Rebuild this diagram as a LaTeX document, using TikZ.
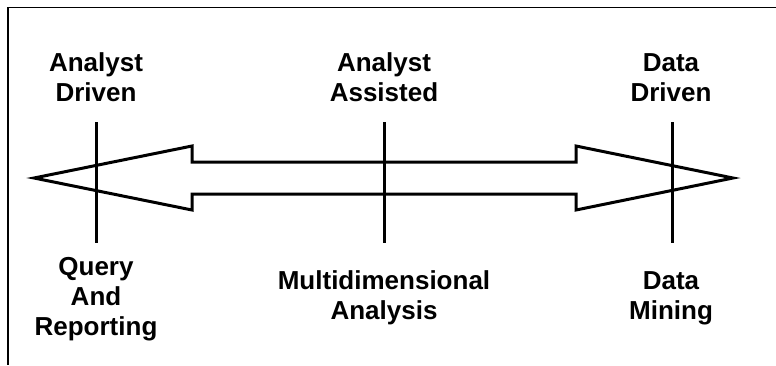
\documentclass[tikz,border=0pt]{standalone}
\usepackage{fontspec}
\setmainfont{Liberation Sans}
\begin{document}
\begin{tikzpicture}[x=1pt,y=-1pt,
  lbl/.style={font=\bfseries\fontsize{26}{30}\selectfont, align=center, inner sep=0pt, anchor=base},
  frameline/.style={line width=1.6pt, line cap=butt},
  arrowshape/.style={line width=3pt, line join=miter},
  tick/.style={line width=3pt}]
\useasboundingbox (0,0) rectangle (776,365);
% frame (top and left edges)
\coordinate (fTR) at (776,7.5);
\coordinate (fTL) at (8,7.5);
\coordinate (fBL) at (8,365);
\draw[frameline] (fTR) -- (fTL) -- (fBL);
% double-headed block arrow
\draw[arrowshape] (34,178) -- (192,146) -- (192,162) -- (576,162) -- (576,146)
  -- (733,178) -- (576,210) -- (576,194) -- (192,194) -- (192,210) -- cycle;
% vertical markers
\coordinate (t1) at (96,122);  \coordinate (b1) at (96,243);
\coordinate (t2) at (384,122); \coordinate (b2) at (384,243);
\coordinate (t3) at (672,122); \coordinate (b3) at (672,243);
\draw[tick] (t1) -- (b1);
\draw[tick] (t2) -- (b2);
\draw[tick] (t3) -- (b3);
% labels (base anchor = baseline of the last line)
\node[lbl] (ad) at (96,101.5) {Analyst\\Driven};
\node[lbl] (aa) at (384,101.5) {Analyst\\Assisted};
\node[lbl] (dd) at (671,101.5) {Data\\Driven};
\node[lbl] (qr) at (96,335) {Query\\And\\Reporting};
\node[lbl] (ma) at (384,319) {Multidimensional\\Analysis};
\node[lbl] (dm) at (671,319) {Data\\Mining};
\end{tikzpicture}
\end{document}
